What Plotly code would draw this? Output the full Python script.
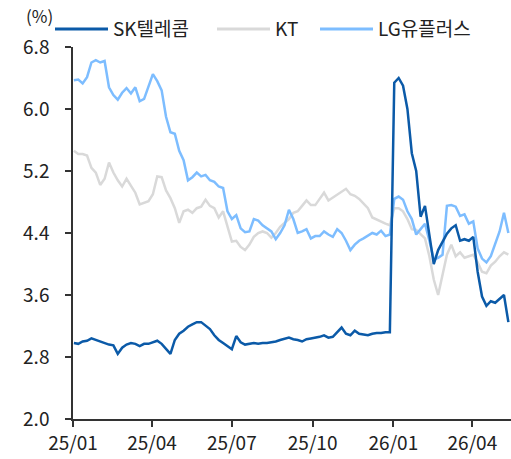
import pandas as pd
import plotly.graph_objects as go

# 5-day sampling of the daily dividend yield lines
dates = pd.date_range("2025-01-02", periods=100, freq="5D")

sk_telecom = [
    2.98, 2.97, 3.00, 3.01, 3.04, 3.02, 2.99, 2.98, 2.96, 2.95,
    2.84, 2.92, 2.96, 2.98, 2.97, 2.94, 2.97, 2.97, 2.99, 3.01,
    2.97, 2.90, 2.84, 3.02, 3.10, 3.14, 3.19, 3.22, 3.25, 3.25,
    3.21, 3.16, 3.08, 3.02, 2.98, 2.94, 2.90, 3.07, 2.99, 2.96,
    2.97, 2.98, 2.97, 2.98, 2.98, 2.99, 3.00, 3.02, 3.04, 3.05,
    3.03, 3.02, 3.00, 3.03, 3.04, 3.05, 3.06, 3.08, 3.05, 3.06,
    3.12, 3.18, 3.10, 3.08, 3.14, 3.10, 3.09, 3.08, 3.10, 3.11,
    3.11, 3.12, 3.12, 6.34, 6.40, 6.30, 6.00, 5.43, 5.20, 4.61,
    4.75, 4.40, 4.00, 4.18, 4.28, 4.39, 4.46, 4.50, 4.30, 4.32,
    4.30, 4.35, 3.90, 3.58, 3.46, 3.52, 3.50, 3.55, 3.60, 3.25,
]

kt = [
    5.46, 5.42, 5.42, 5.40, 5.24, 5.18, 5.02, 5.10, 5.31, 5.18,
    5.08, 5.00, 5.10, 5.01, 4.92, 4.77, 4.79, 4.81, 4.90, 5.13,
    5.12, 4.95, 4.85, 4.72, 4.53, 4.68, 4.70, 4.66, 4.72, 4.74,
    4.83, 4.75, 4.72, 4.60, 4.68, 4.48, 4.29, 4.30, 4.22, 4.18,
    4.25, 4.35, 4.40, 4.42, 4.40, 4.34, 4.40, 4.48, 4.53, 4.58,
    4.66, 4.68, 4.75, 4.82, 4.76, 4.76, 4.84, 4.92, 4.82, 4.86,
    4.90, 4.94, 4.97, 4.90, 4.88, 4.84, 4.78, 4.72, 4.60, 4.57,
    4.54, 4.52, 4.50, 4.72, 4.72, 4.68, 4.58, 4.45, 4.44, 4.38,
    4.33, 4.10, 3.80, 3.60, 3.85, 4.12, 4.25, 4.10, 4.15, 4.08,
    4.10, 4.12, 4.02, 3.90, 3.88, 3.98, 4.03, 4.10, 4.15, 4.12,
]

lg_uplus = [
    6.37, 6.38, 6.33, 6.41, 6.60, 6.63, 6.60, 6.62, 6.28, 6.18,
    6.12, 6.21, 6.27, 6.20, 6.28, 6.10, 6.13, 6.30, 6.45, 6.36,
    6.24, 5.90, 5.70, 5.68, 5.46, 5.34, 5.08, 5.12, 5.18, 5.13,
    5.15, 5.08, 5.06, 5.00, 4.98, 4.68, 4.58, 4.63, 4.46, 4.41,
    4.42, 4.58, 4.56, 4.50, 4.46, 4.42, 4.32, 4.40, 4.50, 4.70,
    4.58, 4.40, 4.42, 4.45, 4.33, 4.36, 4.36, 4.42, 4.38, 4.35,
    4.45, 4.40, 4.30, 4.18, 4.25, 4.30, 4.33, 4.37, 4.40, 4.38,
    4.43, 4.36, 4.38, 4.84, 4.87, 4.83, 4.68, 4.58, 4.38, 4.45,
    4.52, 4.30, 4.06, 4.08, 4.12, 4.75, 4.76, 4.74, 4.62, 4.64,
    4.52, 4.55, 4.20, 4.07, 4.02, 4.10, 4.25, 4.42, 4.66, 4.40,
]

tick_dates = ["2025-01-01", "2025-04-01", "2025-07-01", "2025-10-01", "2026-01-01", "2026-04-01"]
tick_labels = ["25/01", "25/04", "25/07", "25/10", "26/01", "26/04"]

series = [
    ("KT", kt, "#d9d9d9"),
    ("LG유플러스", lg_uplus, "#7dbdff"),
    ("SK텔레콤", sk_telecom, "#0b5aa8"),
]

FONT = "Noto Sans CJK KR"

fig = go.Figure()
for name, vals, color in series:
    fig.add_trace(go.Scatter(x=dates, y=vals, name=name, mode="lines",
                             line=dict(color=color, width=2.5), showlegend=False))

# plot area in pixels: x 73..511, y 47..419
L, R, T, B = 73, 511, 47, 419
def px(x):
    return (x - L) / (R - L)
def py(y):
    return (B - y) / (B - T)

# hand-made legend (longer line samples than plotly's own)
legend_items = [("SK텔레콤", "#0b5aa8", 55), ("KT", "#d9d9d9", 217), ("LG유플러스", "#7dbdff", 320)]
shapes = []
annotations = []
for name, color, x0 in legend_items:
    shapes.append(dict(type="line", xref="paper", yref="paper",
                       x0=px(x0), x1=px(x0 + 53), y0=py(29), y1=py(29),
                       line=dict(color=color, width=3)))
    annotations.append(dict(text=name, xref="paper", yref="paper", x=px(x0 + 56), y=py(27),
                            xanchor="left", yanchor="middle", showarrow=False,
                            font=dict(family=FONT, size=19, color="#222")))
annotations.append(dict(text="(%)", xref="paper", yref="paper", x=px(39), y=py(15),
                        xanchor="center", yanchor="middle", showarrow=False,
                        font=dict(family=FONT, size=17, color="#222")))

fig.update_layout(
    width=511, height=459,
    margin=dict(l=L, r=511 - R, t=T, b=459 - B),
    paper_bgcolor="white", plot_bgcolor="white",
    font=dict(family=FONT, size=19, color="#222"),
    shapes=shapes, annotations=annotations,
    showlegend=False,
)
fig.update_xaxes(
    range=["2025-01-01", "2026-05-15"],
    tickvals=tick_dates, ticktext=tick_labels,
    showgrid=False, zeroline=False,
    showline=True, linecolor="#333", linewidth=1.5,
    ticks="outside", ticklen=6, tickcolor="#333", tickwidth=1.5,
)
fig.update_yaxes(
    range=[2.0, 6.8], tickvals=[2.0, 2.8, 3.6, 4.4, 5.2, 6.0, 6.8], tickformat=".1f",
    showgrid=False, zeroline=False,
    showline=True, linecolor="#333", linewidth=1.5,
    ticks="outside", ticklen=6, tickcolor="#333", tickwidth=1.5,
    ticklabelstandoff=12,
)

# page body has an 8px default margin; drop it so the figure sits at 0,0
fig.write_html("out.html", config={"displayModeBar": False},
               post_script="document.body.style.margin='0';")
